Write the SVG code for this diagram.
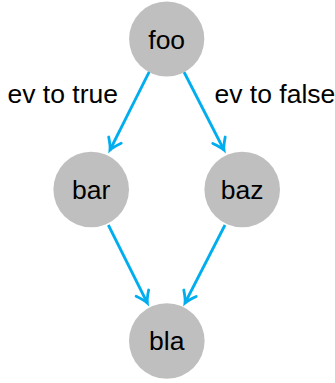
<svg xmlns="http://www.w3.org/2000/svg" width="335" height="383" viewBox="0 0 335 383">
<style>
.node circle{fill:#bfbfbf;}
.node text,.lbl{font-family:"Liberation Sans",Arial,sans-serif;font-size:26.5px;fill:#000;text-anchor:middle;}
.lbl{text-anchor:start;}
.edge{stroke:#00aeef;stroke-width:2.8;fill:none;}
</style>
<defs>
<marker id="arr" markerUnits="userSpaceOnUse" markerWidth="20" markerHeight="20" viewBox="-14 -10 20 20" refX="0" refY="0" orient="auto">
<path d="M -11,-7 Q -4,-1.5 0,0 Q -4,1.5 -11,7" stroke="#00aeef" stroke-width="2.8" fill="none" stroke-linecap="round"/>
</marker>
</defs>
<g id="connectors">
<line class="edge" x1="149.3" y1="71.7" x2="110" y2="150" marker-end="url(#arr)"/>
<line class="edge" x1="184" y1="72" x2="224" y2="150" marker-end="url(#arr)"/>
<line class="edge" x1="108.3" y1="225" x2="147.3" y2="303" marker-end="url(#arr)"/>
<line class="edge" x1="225" y1="225" x2="185" y2="303" marker-end="url(#arr)"/>
</g>
<text class="lbl" x="7.5" y="103">ev to true</text>
<text class="lbl" x="214.5" y="103">ev to false</text>
<g id="foo" class="node"><circle cx="166.7" cy="39" r="37.6"/><text x="166.7" y="48.5">foo</text></g>
<g id="bar" class="node"><circle cx="91.2" cy="189.5" r="37.8"/><text x="91.2" y="199.3">bar</text></g>
<g id="baz" class="node"><circle cx="242.2" cy="189.5" r="37.8"/><text x="242.2" y="199.3">baz</text></g>
<g id="bla" class="node"><circle cx="166.8" cy="341" r="37.8"/><text x="166.8" y="350.3">bla</text></g>
</svg>
